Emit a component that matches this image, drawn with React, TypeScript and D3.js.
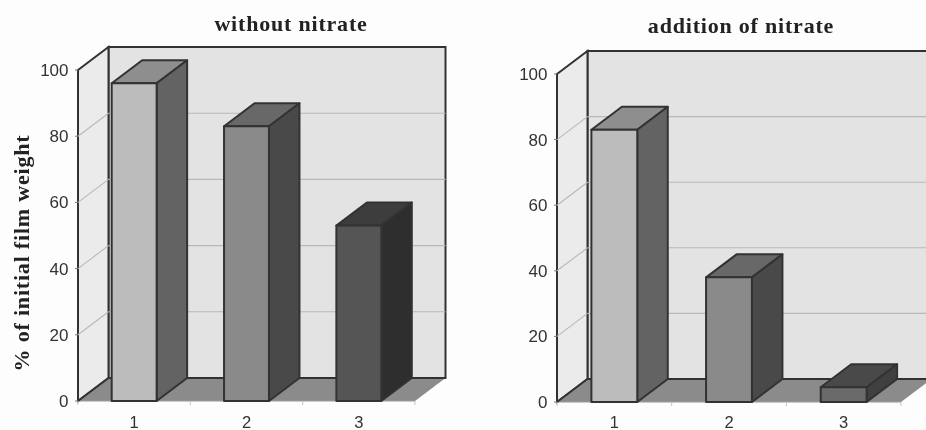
import * as d3 from "d3";

const categories = ["1", "2", "3"];
const yTicks = [0, 20, 40, 60, 80, 100];
const withoutNitrate = [96, 83, 53];
const additionOfNitrate = [83, 38, 4.5];
const yLabel = "% of initial film weight";

const greys = [
  { front: "#bcbcbc", top: "#8e8e8e", side: "#646464" },
  { front: "#8a8a8a", top: "#686868", side: "#4a4a4a" },
  { front: "#555555", top: "#3c3c3c", side: "#2e2e2e" },
];
const lowBarGreys = { front: "#6a6a6a", top: "#4a4a4a", side: "#404040" };

const sans = "'Liberation Sans', Arial, sans-serif";
const serif = "'Liberation Serif', 'Times New Roman', serif";
const edge = "#333333";

const depthX = 30.5;
const depthY = -23;

type Pt = [number, number];
const poly = (pts: Pt[]) => d3.line()(pts) + "Z";

type PanelProps = {
  title: string;
  titleX: number;
  titleY: number;
  values: number[];
  x0: number;
  x1: number;
  y0: number;
  y100: number;
  colors: typeof greys;
};

function Panel({ title, titleX, titleY, values, x0, x1, y0, y100, colors }: PanelProps) {
  const y = d3.scaleLinear().domain([0, 100]).range([y0, y100]);
  const x = d3.scaleBand().domain(categories).range([x0, x1]).paddingInner(0.6).paddingOuter(0.3);
  const band = d3.scaleBand().domain(categories).range([x0, x1]);
  const bw = x.bandwidth();

  return (
    <g>
      <text x={titleX} y={titleY} textAnchor="middle" fontFamily={serif} fontWeight="bold" fontSize={22} fill="#222" letterSpacing={0.8}>
        {title}
      </text>

      {/* back wall */}
      <path
        d={poly([[x0 + depthX, y(100) + depthY], [x1 + depthX, y(100) + depthY], [x1 + depthX, y0 + depthY], [x0 + depthX, y0 + depthY]])}
        fill="#e3e3e3" stroke={edge} strokeWidth={2}
      />
      {/* side wall */}
      <path
        d={poly([[x0, y(100)], [x0 + depthX, y(100) + depthY], [x0 + depthX, y0 + depthY], [x0, y0]])}
        fill="#ebebeb" stroke={edge} strokeWidth={2}
      />
      {/* floor */}
      <path
        d={poly([[x0, y0], [x0 + depthX, y0 + depthY], [x1 + depthX, y0 + depthY], [x1, y0]])}
        fill="#8b8b8b" stroke="none"
      />
      <line x1={x0 + depthX} x2={x1 + depthX} y1={y0 + depthY} y2={y0 + depthY} stroke={edge} strokeWidth={2} />
      <line x1={x0} x2={x1} y1={y0} y2={y0} stroke="#9a9a9a" strokeWidth={1} />
      <line x1={x0} x2={x0 + depthX} y1={y0} y2={y0 + depthY} stroke={edge} strokeWidth={2} />

      {yTicks.filter((t) => t > 0 && t < 100).map((t) => (
        <g key={t} fill="none" stroke="#b8b8b8" strokeWidth={1.1}>
          <line x1={x0 + depthX} x2={x1 + depthX} y1={y(t) + depthY} y2={y(t) + depthY} />
          <line x1={x0} x2={x0 + depthX} y1={y(t)} y2={y(t) + depthY} />
        </g>
      ))}

      {yTicks.map((t) => (
        <g key={t}>
          <line x1={x0 - 3} x2={x0} y1={y(t)} y2={y(t)} stroke="#777" strokeWidth={1} />
          <text x={x0 - 9.5} y={y(t)} dy="0.35em" textAnchor="end" fontFamily={sans} fontSize={17} fill="#333">
            {t}
          </text>
        </g>
      ))}

      {categories.map((c) => (
        <g key={c}>
          <line x1={band(c)!} x2={band(c)!} y1={y0} y2={y0 + 4} stroke="#c4c4c4" strokeWidth={1} />
          <text x={band(c)! + band.bandwidth() / 2} y={428} textAnchor="middle" fontFamily={sans} fontSize={16.5} fill="#333">
            {c}
          </text>
        </g>
      ))}
      <line x1={x1} x2={x1} y1={y0} y2={y0 + 4} stroke="#c4c4c4" strokeWidth={1} />

      {categories.map((c, i) => {
        const left = x(c)!;
        const right = left + bw;
        const top = y(values[i]);
        const col = colors[i];
        return (
          <g key={c} stroke={edge} strokeWidth={2} strokeLinejoin="round">
            <path d={poly([[left, top], [left + depthX, top + depthY], [right + depthX, top + depthY], [right, top]])} fill={col.top} />
            <path d={poly([[right, top], [right + depthX, top + depthY], [right + depthX, y0 + depthY], [right, y0]])} fill={col.side} />
            <path d={poly([[left, top], [right, top], [right, y0], [left, y0]])} fill={col.front} />
          </g>
        );
      })}
    </g>
  );
}

export default function App() {
  return (
    <svg width={926} height={430} style={{ position: "absolute", left: 0, top: 0, background: "#fdfdfd" }}>
      <defs>
        <filter id="scan" x="0" y="0" width="100%" height="100%">
          <feGaussianBlur stdDeviation="0.5" />
        </filter>
      </defs>
      <g filter="url(#scan)">
        <Panel title="without nitrate" titleX={291} titleY={31} values={withoutNitrate} x0={78} x1={415} y0={401} y100={70} colors={greys} />
        <Panel
          title="addition of nitrate"
          titleX={741}
          titleY={33}
          values={additionOfNitrate}
          x0={557}
          x1={901}
          y0={402}
          y100={74}
          colors={[greys[0], greys[1], lowBarGreys]}
        />
        <text
          transform="translate(29,253) rotate(-90)"
          textAnchor="middle"
          fontFamily={serif}
          fontWeight="bold"
          fontSize={22}
          letterSpacing={0.8}
          fill="#222"
        >
          {yLabel}
        </text>
      </g>
    </svg>
  );
}
